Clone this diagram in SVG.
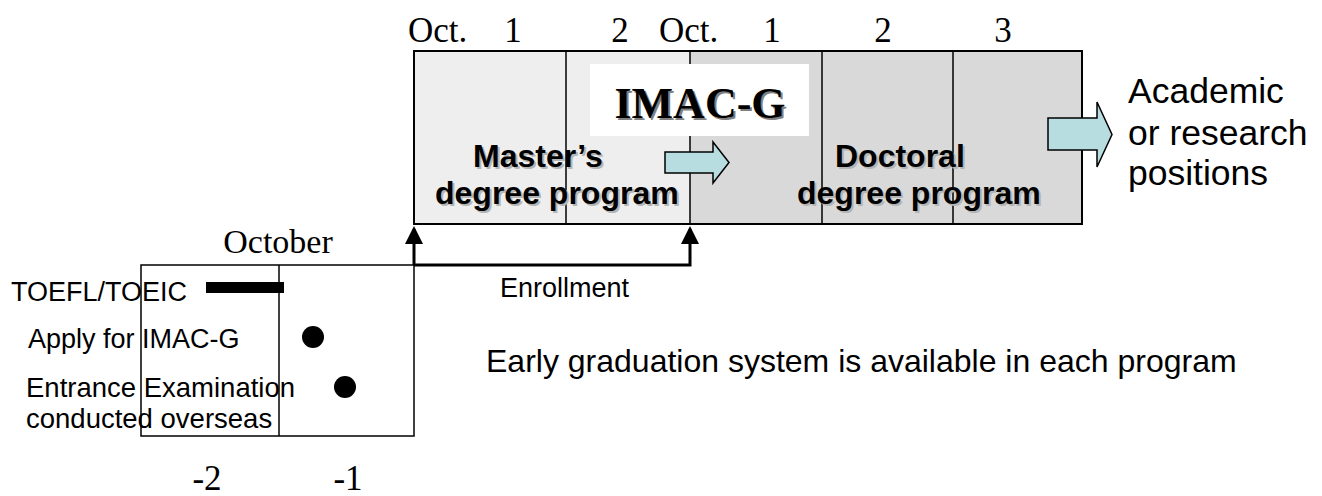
<svg xmlns="http://www.w3.org/2000/svg" width="1322" height="496" viewBox="0 0 1322 496">
<style>
.tnr{font-family:"Liberation Serif","Times New Roman",serif;fill:#000}
.ar{font-family:"Liberation Sans",Arial,sans-serif;fill:#000}
.bold{font-family:"Liberation Sans",Arial,sans-serif;font-weight:bold;font-size:32px}
.shadow{fill:#b4b4b4}
.edge{fill:none;stroke:#000;stroke-width:2}
.div{stroke:#000;stroke-width:1.5}
.blockarrow{fill:#b8dde0;stroke:#000;stroke-width:1.5;stroke-linejoin:miter}
.conn{fill:none;stroke:#000;stroke-width:3}
</style>
<defs>
<marker id="tri" markerWidth="6" markerHeight="6" refX="5" refY="3" orient="auto" markerUnits="strokeWidth">
<path d="M0,0 L6,3 L0,6 z" fill="#000"/>
</marker>
</defs>
<rect width="1322" height="496" fill="#fff"/>

<g id="timeline-labels">
<text class="tnr" font-size="35" x="408" y="42">Oct.</text>
<text class="tnr" font-size="35" x="513" y="42" text-anchor="middle">1</text>
<text class="tnr" font-size="35" x="620" y="42" text-anchor="middle">2</text>
<text class="tnr" font-size="35" x="659" y="42">Oct.</text>
<text class="tnr" font-size="35" x="772" y="42" text-anchor="middle">1</text>
<text class="tnr" font-size="35" x="883" y="42" text-anchor="middle">2</text>
<text class="tnr" font-size="35" x="1003" y="42" text-anchor="middle">3</text>
</g>

<g id="masters-program">
<rect x="414" y="51" width="276" height="173" fill="#eeeeee"/>
<line class="div" x1="566" y1="51" x2="566" y2="224"/>
<text class="bold shadow" x="475" y="169">Master’s</text>
<text class="bold" x="473" y="167">Master’s</text>
<text class="bold shadow" x="437" y="206">degree program</text>
<text class="bold" x="435" y="204">degree program</text>
</g>

<g id="doctoral-program">
<rect x="690" y="51" width="392" height="173" fill="#d9d9d9"/>
<line class="div" x1="690" y1="51" x2="690" y2="224"/>
<line class="div" x1="822" y1="51" x2="822" y2="224"/>
<line class="div" x1="953" y1="51" x2="953" y2="224"/>
<text class="bold shadow" x="837" y="169">Doctoral</text>
<text class="bold" x="835" y="167">Doctoral</text>
<text class="bold shadow" x="799" y="206">degree program</text>
<text class="bold" x="797" y="204">degree program</text>
</g>

<rect class="edge" x="414" y="51" width="668" height="173"/>

<g id="imac-g-title">
<rect x="590" y="64" width="219" height="72" fill="#fff"/>
<text class="tnr" font-size="44" font-weight="bold" x="702" y="120" text-anchor="middle" style="fill:#808080">IMAC-G</text>
<text class="tnr" font-size="44" font-weight="bold" x="700" y="118" text-anchor="middle">IMAC-G</text>
</g>

<g id="transition-arrow">
<path class="blockarrow" d="M665,152 H713 V142 L729,162.5 L713,183 V173 H665 Z"/>
</g>

<g id="career-arrow">
<path class="blockarrow" d="M1048,118 H1097 V102 L1112,134.5 L1097,167 V150 H1048 Z"/>
</g>

<g id="career-label">
<text class="ar" font-size="35.5" x="1128" y="103">Academic</text>
<text class="ar" font-size="35.5" x="1128" y="145">or research</text>
<text class="ar" font-size="35.5" x="1128" y="185">positions</text>
</g>

<g id="pre-enrollment">
<text class="tnr" font-size="34" x="278" y="253" text-anchor="middle">October</text>
<rect class="edge" x="141" y="265" width="273" height="171" style="stroke-width:1.5"/>
<line class="div" x1="279" y1="265" x2="279" y2="436"/>
<text class="ar" font-size="27" x="11" y="301">TOEFL/TOEIC</text>
<rect x="206" y="282" width="78" height="11" fill="#000"/>
<text class="ar" font-size="27" x="28" y="348">Apply for IMAC-G</text>
<circle cx="313" cy="337" r="11" fill="#000"/>
<text class="ar" font-size="27.5" x="26" y="397">Entrance Examination</text>
<text class="ar" font-size="27.5" x="26" y="428">conducted overseas</text>
<circle cx="345" cy="387" r="11" fill="#000"/>
<text class="tnr" font-size="35" x="207" y="490" text-anchor="middle">-2</text>
<text class="tnr" font-size="35" x="348" y="490" text-anchor="middle">-1</text>
</g>

<g id="connectors">
<path class="conn" d="M414,265 V229" marker-end="url(#tri)"/>
<path class="conn" d="M414,265 H690 V229" marker-end="url(#tri)"/>
</g>

<g id="notes">
<text class="ar" font-size="27" x="500" y="297">Enrollment</text>
<text class="ar" font-size="32" x="486" y="372">Early graduation system is available in each program</text>
</g>
</svg>
